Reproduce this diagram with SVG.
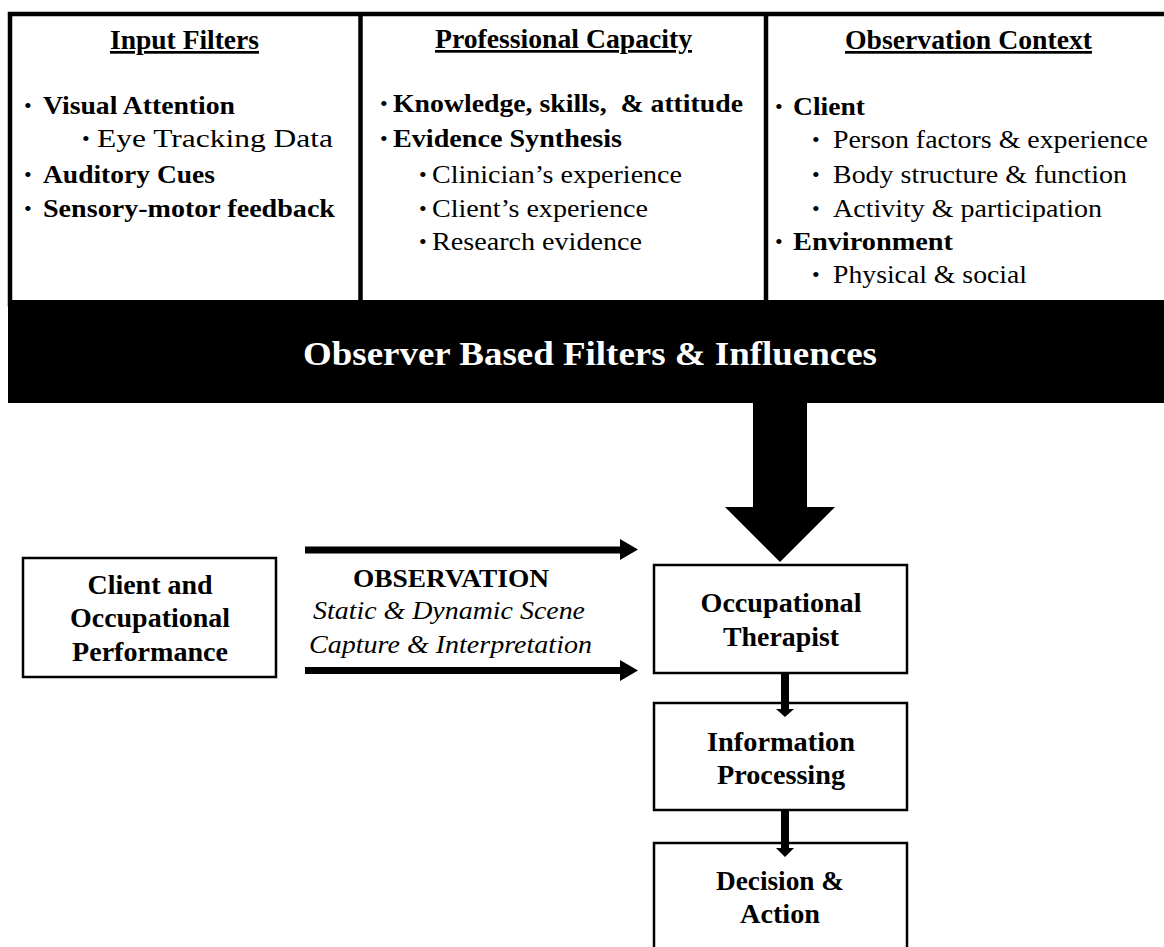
<svg xmlns="http://www.w3.org/2000/svg" width="1164" height="947" viewBox="0 0 1164 947">
<style>
  text { font-family: "Liberation Serif", "Times New Roman", serif; fill: #000; }
  .h { font-size: 27px; font-weight: bold; text-decoration: underline; }
  .b { font-size: 25px; font-weight: bold; }
  .r { font-size: 25px; }
  .bul { font-size: 22px; }
  .n { font-size: 28px; font-weight: bold; text-anchor: middle; }
  .box { fill: #fff; stroke: #000; stroke-width: 2.5; }
  .it { font-size: 26px; font-style: italic; }
</style>
<rect width="1164" height="947" fill="#fff"/>

<g id="top-panel">
  <rect x="10" y="14" width="1160" height="290" fill="#fff" stroke="#000" stroke-width="4.5"/>
  <line x1="360.5" y1="14" x2="360.5" y2="300" stroke="#000" stroke-width="4.5"/>
  <line x1="766" y1="14" x2="766" y2="300" stroke="#000" stroke-width="4.5"/>
</g>

<g id="input-filters">
  <text class="h" x="110" y="49" textLength="149" lengthAdjust="spacingAndGlyphs">Input Filters</text>
  <text class="bul" x="24" y="113">•</text>
  <text class="b" x="43" y="114" textLength="192" lengthAdjust="spacingAndGlyphs">Visual Attention</text>
  <text class="bul" x="82" y="146">•</text>
  <text class="r" x="97" y="147" textLength="236" lengthAdjust="spacingAndGlyphs">Eye Tracking Data</text>
  <text class="bul" x="24" y="182">•</text>
  <text class="b" x="43" y="183" textLength="172" lengthAdjust="spacingAndGlyphs">Auditory Cues</text>
  <text class="bul" x="24" y="216">•</text>
  <text class="b" x="43" y="217" textLength="292" lengthAdjust="spacingAndGlyphs">Sensory-motor feedback</text>
</g>

<g id="professional-capacity">
  <text class="h" x="435" y="48" textLength="257" lengthAdjust="spacingAndGlyphs">Professional Capacity</text>
  <text class="bul" x="380" y="111">•</text>
  <text class="b" x="393" y="112" textLength="350" lengthAdjust="spacingAndGlyphs" xml:space="preserve">Knowledge, skills,  &amp; attitude</text>
  <text class="bul" x="380" y="146">•</text>
  <text class="b" x="393" y="147" textLength="229" lengthAdjust="spacingAndGlyphs">Evidence Synthesis</text>
  <text class="bul" x="419" y="182">•</text>
  <text class="r" x="432" y="183" textLength="250" lengthAdjust="spacingAndGlyphs">Clinician’s experience</text>
  <text class="bul" x="419" y="216">•</text>
  <text class="r" x="432" y="217" textLength="216" lengthAdjust="spacingAndGlyphs">Client’s experience</text>
  <text class="bul" x="419" y="249">•</text>
  <text class="r" x="432" y="250" textLength="210" lengthAdjust="spacingAndGlyphs">Research evidence</text>
</g>

<g id="observation-context">
  <text class="h" x="845" y="49" textLength="247" lengthAdjust="spacingAndGlyphs">Observation Context</text>
  <text class="bul" x="775" y="114">•</text>
  <text class="b" x="793" y="115" textLength="72" lengthAdjust="spacingAndGlyphs">Client</text>
  <text class="bul" x="812" y="147">•</text>
  <text class="r" x="833" y="148" textLength="315" lengthAdjust="spacingAndGlyphs">Person factors &amp; experience</text>
  <text class="bul" x="812" y="182">•</text>
  <text class="r" x="833" y="183" textLength="294" lengthAdjust="spacingAndGlyphs">Body structure &amp; function</text>
  <text class="bul" x="812" y="216">•</text>
  <text class="r" x="833" y="217" textLength="269" lengthAdjust="spacingAndGlyphs">Activity &amp; participation</text>
  <text class="bul" x="775" y="249">•</text>
  <text class="b" x="793" y="250" textLength="160" lengthAdjust="spacingAndGlyphs">Environment</text>
  <text class="bul" x="812" y="282">•</text>
  <text class="r" x="833" y="283" textLength="194" lengthAdjust="spacingAndGlyphs">Physical &amp; social</text>
</g>

<g id="observer-band">
  <rect x="8" y="300" width="1160" height="103" fill="#000"/>
  <text x="303" y="365" font-size="34" font-weight="bold" style="fill:#fff" textLength="574" lengthAdjust="spacingAndGlyphs">Observer Based Filters &amp; Influences</text>
</g>

<g id="client-performance">
  <rect class="box" x="23" y="558" width="253" height="119"/>
  <text class="n" x="150" y="594" textLength="125" lengthAdjust="spacingAndGlyphs">Client and</text>
  <text class="n" x="150" y="627" textLength="160" lengthAdjust="spacingAndGlyphs">Occupational</text>
  <text class="n" x="150" y="661" textLength="156" lengthAdjust="spacingAndGlyphs">Performance</text>
</g>

<g id="observation-label">
  <text x="451" y="587" font-size="26" font-weight="bold" text-anchor="middle" textLength="196" lengthAdjust="spacingAndGlyphs">OBSERVATION</text>
  <text class="it" x="449" y="619" text-anchor="middle" textLength="272" lengthAdjust="spacingAndGlyphs">Static &amp; Dynamic Scene</text>
  <text class="it" x="450.5" y="653" text-anchor="middle" textLength="283" lengthAdjust="spacingAndGlyphs">Capture &amp; Interpretation</text>
</g>

<g id="occupational-therapist">
  <rect class="box" x="654" y="565" width="253" height="108"/>
  <text class="n" x="781" y="612" textLength="161" lengthAdjust="spacingAndGlyphs">Occupational</text>
  <text class="n" x="781" y="646" textLength="116" lengthAdjust="spacingAndGlyphs">Therapist</text>
</g>

<g id="information-processing">
  <rect class="box" x="654" y="703" width="253" height="107"/>
  <text class="n" x="781" y="751" textLength="148" lengthAdjust="spacingAndGlyphs">Information</text>
  <text class="n" x="781" y="784" textLength="128" lengthAdjust="spacingAndGlyphs">Processing</text>
</g>

<g id="decision-action">
  <rect class="box" x="654" y="843" width="253" height="120"/>
  <text class="n" x="780" y="890" textLength="128" lengthAdjust="spacingAndGlyphs">Decision &amp;</text>
  <text class="n" x="780" y="923" textLength="80" lengthAdjust="spacingAndGlyphs">Action</text>
</g>

<g id="connectors" fill="#000">
  <polygon points="753,400 807,400 807,507 835,507 780,562 725,507 753,507"/>
  <polygon points="305,546.5 620,546.5 620,539 638,549.5 620,560 620,553.5 305,553.5"/>
  <polygon points="305,667 620,667 620,660 638,670.5 620,681 620,674 305,674"/>
  <polygon points="781,673 789,673 789,709 794,709 785,717 776,709 781,709"/>
  <polygon points="781,810 789,810 789,848 794,848 785,857 776,848 781,848"/>
</g>
</svg>
